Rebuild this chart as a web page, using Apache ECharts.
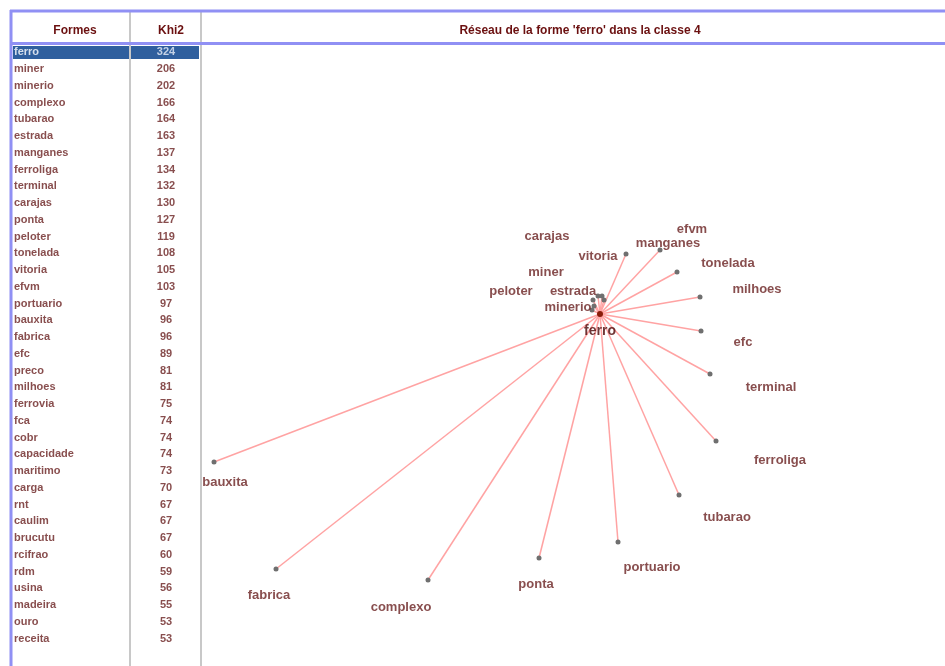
<!DOCTYPE html>
<html>
<head>
<meta charset="utf-8">
<script src="https://cdn.jsdelivr.net/npm/echarts@6/dist/echarts.min.js"></script>
<style>html,body{margin:0;padding:0;background:#fff;}#c{width:945px;height:666px;}</style>
</head>
<body>
<div id="c"></div>
<script>
// ---- Table data ----
const formes = ['ferro','miner','minerio','complexo','tubarao','estrada','manganes','ferroliga','terminal','carajas','ponta','peloter','tonelada','vitoria','efvm','portuario','bauxita','fabrica','efc','preco','milhoes','ferrovia','fca','cobr','capacidade','maritimo','carga','rnt','caulim','brucutu','rcifrao','rdm','usina','madeira','ouro','receita'];
const khi2 = [324,206,202,166,164,163,137,134,132,130,127,119,108,105,103,97,96,96,89,81,81,75,74,74,74,73,70,67,67,67,60,59,56,55,53,53];

// ---- Network data (layout coordinates, ferro at origin) ----
const nodeNames = ['ferro','vitoria','manganes','tonelada','milhoes','efc','terminal','ferroliga','tubarao','portuario','ponta','complexo','fabrica','bauxita','carajas','miner','estrada','efvm','peloter','minerio'];
const nodeX = [0, 26, 60, 77, 100, 101, 110, 116, 79, 18, -61, -172, -324, -386, -7, -2, 2, 4, -8, -6];
const nodeY = [0, 60, 64, 42, 17, -17, -60, -127, -181, -228, -244, -266, -255, -148, 14, 18, 18, 14, 4, 8];
const labelX = [0, -2, 68, 128, 157, 143, 171, 180, 127, 52, -64, -199, -331, -375, -53, -54, -27, 92, -89, -32];
const labelY = [-17, 58, 71, 51, 25, -28, -73, -146, -203, -253, -270, -293, -281, -168, 78, 42, 23, 85, 23, 7];

const chart = echarts.init(document.getElementById('c'), null, {renderer: 'canvas'});
const FONT = 'Liberation Sans, Arial, sans-serif';
const TXT = '#6a2222';

const graphData = nodeNames.map((n, i) => ({
  name: n, value: [nodeX[i], nodeY[i]],
  symbolSize: i === 0 ? 6 : 5,
  itemStyle: {color: i === 0 ? '#8a1c0a' : '#6f6f6f'}
}));
const links = nodeNames.slice(1).map((n, i) => ({source: 0, target: i + 1}));
const labelData = nodeNames.map((n, i) => ({
  name: n, value: [labelX[i], labelY[i]],
  label: i === 0 ? {fontSize: 14, color: '#4a0505'} : {}
}));

const tableNames = formes.map((f, i) => ({
  value: [14, f], label: {color: i === 0 ? '#ffffff' : TXT}
}));
const tableVals = khi2.map((v, i) => ({
  value: [166, formes[i]], label: {color: i === 0 ? '#e8eef8' : TXT}
}));

chart.setOption({
  animation: false,
  backgroundColor: '#ffffff',
  title: [
    {text: 'Formes', left: 70, top: 20, textAlign: 'center', textStyle: {fontSize: 12, fontWeight: 'bold', color: '#6b1010', fontFamily: FONT}},
    {text: 'Khi2', left: 166, top: 20, textAlign: 'center', textStyle: {fontSize: 12, fontWeight: 'bold', color: '#6b1010', fontFamily: FONT}},
    {text: "Réseau de la forme 'ferro' dans la classe 4", left: 575, top: 20, textAlign: 'center', textStyle: {fontSize: 12, fontWeight: 'bold', color: '#6b1010', fontFamily: FONT}}
  ],
  graphic: [
    {type: 'rect', shape: {x: 13, y: 46, width: 186, height: 13}, style: {fill: '#2f5f9e'}, z: 0},
    {type: 'line', shape: {x1: 130, y1: 11, x2: 130, y2: 666}, style: {stroke: '#c8c8c8', lineWidth: 2}, z: 0},
    {type: 'line', shape: {x1: 201, y1: 11, x2: 201, y2: 666}, style: {stroke: '#c8c8c8', lineWidth: 2}, z: 0},
    {type: 'line', shape: {x1: 10, y1: 11, x2: 945, y2: 11}, style: {stroke: '#9090f4', lineWidth: 3}, z: 1},
    {type: 'line', shape: {x1: 10, y1: 43.5, x2: 945, y2: 43.5}, style: {stroke: '#9090f4', lineWidth: 3}, z: 1},
    {type: 'line', shape: {x1: 11, y1: 10, x2: 11, y2: 666}, style: {stroke: '#9090f4', lineWidth: 3}, z: 1}
  ],
  grid: [
    {left: 202, right: 0, top: 45, bottom: 0},
    {left: 0, width: 201, top: 44, height: 603}
  ],
  xAxis: [
    {type: 'value', gridIndex: 0, min: -398, max: 345, show: false},
    {type: 'value', gridIndex: 1, min: 0, max: 201, show: false}
  ],
  yAxis: [
    {type: 'value', gridIndex: 0, min: -352, max: 269, show: false},
    {type: 'category', gridIndex: 1, data: formes, inverse: true, show: false}
  ],
  series: [
    {
      type: 'graph', coordinateSystem: 'cartesian2d', xAxisIndex: 0, yAxisIndex: 0,
      data: graphData, links: links, symbol: 'circle',
      lineStyle: {color: '#ffa3a3', width: 1.5, opacity: 1, curveness: 0},
      label: {show: false}, emphasis: {disabled: true}, z: 2
    },
    {
      type: 'scatter', xAxisIndex: 0, yAxisIndex: 0, data: labelData, symbolSize: 0,
      label: {show: true, position: 'inside', formatter: p => p.name, fontSize: 13, fontWeight: 'bold', color: TXT, fontFamily: FONT},
      z: 3, silent: true
    },
    {
      type: 'scatter', xAxisIndex: 1, yAxisIndex: 1, data: tableNames, symbolSize: 0,
      label: {show: true, position: 'right', distance: 0, formatter: p => p.value[1], fontSize: 11, fontWeight: 'bold', color: TXT, fontFamily: FONT},
      z: 3, silent: true
    },
    {
      type: 'scatter', xAxisIndex: 1, yAxisIndex: 1, data: tableVals, symbolSize: 0,
      label: {show: true, position: 'inside', formatter: p => String(khi2[p.dataIndex]), fontSize: 11, fontWeight: 'bold', color: TXT, fontFamily: FONT},
      z: 3, silent: true
    }
  ]
});
</script>
</body>
</html>
